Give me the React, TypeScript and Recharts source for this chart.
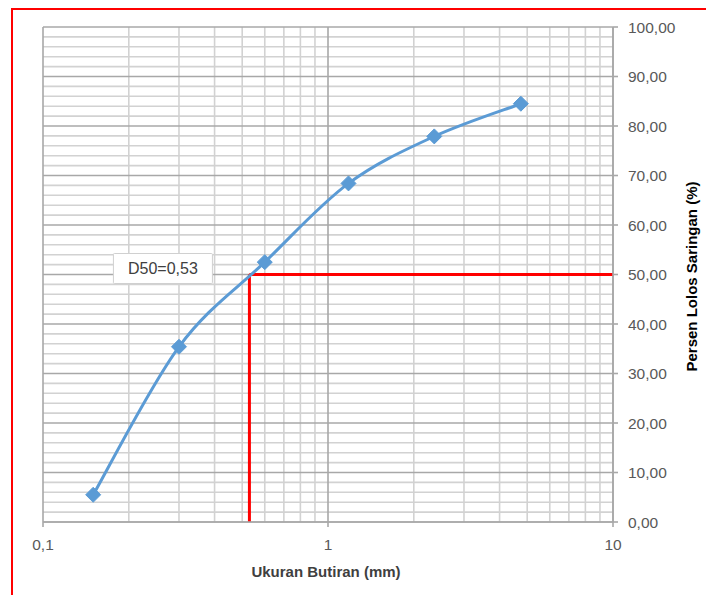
import React from 'react';
import { LineChart, Line, XAxis, YAxis, ReferenceLine, ReferenceDot } from 'recharts';

// Sieve analysis data
const sieveSizes = [0.15, 0.3, 0.6, 1.18, 2.36, 4.75];
const percentPassing = [5.5, 35.4, 52.5, 68.4, 77.9, 84.5];

const xTicks = [0.1, 1, 10];
const xTickLabels = ['0,1', '1', '10'];
const yTicks = [0, 10, 20, 30, 40, 50, 60, 70, 80, 90, 100];
const xMinorGrid = [0.2, 0.3, 0.4, 0.5, 0.6, 0.7, 0.8, 0.9, 2, 3, 4, 5, 6, 7, 8, 9];
const yMinorGrid = [2, 4, 6, 8, 12, 14, 16, 18, 22, 24, 26, 28, 32, 34, 36, 38, 42, 44, 46, 48, 52, 54, 56, 58, 62, 64, 66, 68, 72, 74, 76, 78, 82, 84, 86, 88, 92, 94, 96, 98];
const d50Value = 0.53;
const d50Percent = 50;
const d50Label = 'D50=0,53';

const data = sieveSizes.map((x, i) => ({ x, y: percentPassing[i] }));

const FONT = '"Liberation Sans", Arial, sans-serif';
const BLUE = '#5B9BD5';
const MINOR = '#D2D2D2';
const MAJOR = '#A8A8A8';

// Excel-style smoothed line (Catmull-Rom through the points, drawn as cubic Beziers)
const smoothCurve: any = (context: any) => {
  let pts: number[][] = [];
  return {
    areaStart() {},
    areaEnd() {},
    lineStart() {
      pts = [];
    },
    point(x: number, y: number) {
      pts.push([+x, +y]);
    },
    lineEnd() {
      if (!pts.length) return;
      context.moveTo(pts[0][0], pts[0][1]);
      for (let i = 0; i < pts.length - 1; i++) {
        const p0 = pts[i - 1] || pts[i];
        const p1 = pts[i];
        const p2 = pts[i + 1];
        const p3 = pts[i + 2] || p2;
        const c1x = p1[0] + (p2[0] - p0[0]) / 6;
        const c1y = p1[1] + (p2[1] - p0[1]) / 6;
        const c2x = p2[0] - (p3[0] - p1[0]) / 6;
        const c2y = p2[1] - (p3[1] - p1[1]) / 6;
        context.bezierCurveTo(c1x, c1y, c2x, c2y, p2[0], p2[1]);
      }
    },
  };
};

const Diamond = (props: any) => {
  const { cx, cy } = props;
  if (cx == null || cy == null) return null;
  const r = 7.5;
  return (
    <polygon
      points={`${cx},${cy - r} ${cx + r},${cy} ${cx},${cy + r} ${cx - r},${cy}`}
      fill={BLUE}
      stroke={BLUE}
      strokeWidth={1}
      strokeLinejoin="round"
    />
  );
};

const D50Box = (props: any) => {
  const { cx, cy } = props;
  if (cx == null || cy == null) return null;
  const w = 99;
  const h = 30;
  const bx = cx - 136;
  const by = cy - 21;
  return (
    <g>
      <rect x={bx} y={by} width={w} height={h} fill="#ffffff" stroke="#D0D0D0" strokeWidth={1} rx={1} />
      <text x={bx + w / 2} y={by + h / 2 + 5.5} textAnchor="middle" fontSize={16} fill="#404040" fontFamily={FONT}>
        {d50Label}
      </text>
    </g>
  );
};

const yFmt = (v: number) => v.toFixed(2).replace('.', ',');
const xFmt = (v: number) => {
  const i = xTicks.indexOf(v);
  return i >= 0 ? xTickLabels[i] : String(v);
};

export default function App() {
  return (
    <div style={{ position: 'absolute', left: 0, top: 0, width: 706, height: 595, background: '#fff', overflow: 'hidden' }}>
      <div
        style={{
          position: 'absolute',
          left: 11,
          top: 8,
          width: 720,
          height: 620,
          borderTop: '2px solid #FF0000',
          borderLeft: '2px solid #FF0000',
          boxSizing: 'border-box',
        }}
      />
      <div style={{ position: 'absolute', left: 0, top: 0 }}>
        <LineChart width={706} height={595} data={data} margin={{ top: 27, right: 0, bottom: 0, left: 43 }}>
          <XAxis
            dataKey="x"
            type="number"
            scale="log"
            domain={[0.1, 10]}
            ticks={xTicks}
            tickFormatter={xFmt}
            allowDataOverflow
            height={73}
            tickSize={5}
            tickMargin={12}
            stroke={MAJOR}
            strokeWidth={1.6}
            tick={{ fill: '#595959', fontSize: 15.5, fontFamily: FONT }}
            label={{
              content: (p: any) => {
                const vb = p.viewBox || { x: 43, y: 522, width: 570, height: 73 };
                return (
                  <text x={vb.x + vb.width / 2 - 2} y={vb.y + 55} textAnchor="middle" fontSize={15} fontWeight="bold" fill="#404040" fontFamily={FONT}>
                    Ukuran Butiran (mm)
                  </text>
                );
              },
            }}
          />
          <YAxis
            orientation="right"
            type="number"
            domain={[0, 100]}
            ticks={yTicks}
            tickFormatter={yFmt}
            width={93}
            tickSize={5}
            tickMargin={10}
            stroke={MAJOR}
            strokeWidth={1.6}
            tick={{ fill: '#595959', fontSize: 15.5, fontFamily: FONT, textAnchor: 'start' }}
            label={{
              content: (p: any) => {
                const vb = p.viewBox || { x: 613, y: 27, width: 93, height: 495 };
                const x = vb.x + 84;
                const y = vb.y + vb.height / 2 + 2;
                return (
                  <text x={x} y={y} transform={`rotate(-90 ${x} ${y})`} textAnchor="middle" fontSize={15} fontWeight="bold" fill="#000000" fontFamily={FONT}>
                    Persen Lolos Saringan (%)
                  </text>
                );
              },
            }}
          />
          {yMinorGrid.map((v) => (
            <ReferenceLine key={'ym' + v} y={v} stroke={MINOR} strokeWidth={1.6} />
          ))}
          {xMinorGrid.map((v) => (
            <ReferenceLine key={'xm' + v} x={v} stroke={MINOR} strokeWidth={1.6} />
          ))}
          {yTicks.map((v) => (
            <ReferenceLine key={'yM' + v} y={v} stroke={MAJOR} strokeWidth={1.6} />
          ))}
          {xTicks.map((v) => (
            <ReferenceLine key={'xM' + v} x={v} stroke={MAJOR} strokeWidth={1.6} />
          ))}
          <ReferenceLine
            segment={[{ x: d50Value, y: 0 }, { x: d50Value, y: d50Percent }]}
            stroke="#FF0000"
            strokeWidth={3}
          />
          <ReferenceLine
            segment={[{ x: d50Value, y: d50Percent }, { x: 10, y: d50Percent }]}
            stroke="#FF0000"
            strokeWidth={3}
          />
          <Line
            type={smoothCurve}
            dataKey="y"
            stroke={BLUE}
            strokeWidth={3}
            dot={<Diamond />}
            activeDot={false}
            isAnimationActive={false}
          />
          <ReferenceDot x={d50Value} y={d50Percent} shape={<D50Box />} />
        </LineChart>
      </div>
    </div>
  );
}
